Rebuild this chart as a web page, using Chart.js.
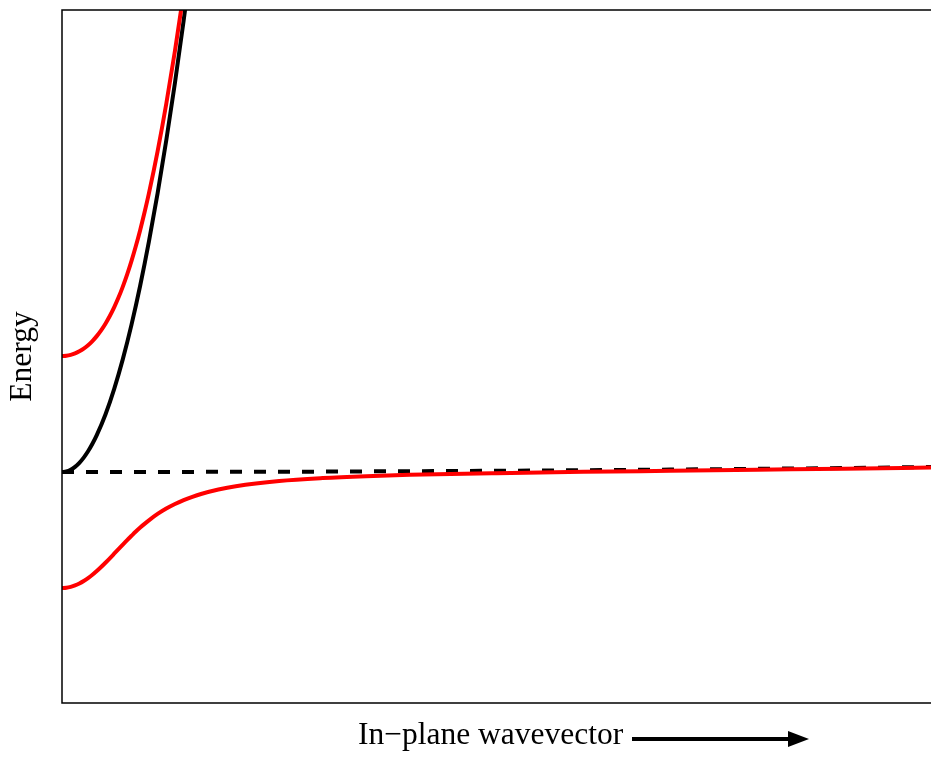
<!DOCTYPE html>
<html>
<head>
<meta charset="utf-8">
<script src="https://cdn.jsdelivr.net/npm/chart.js@4.4.0/dist/chart.umd.min.js"></script>
<style>
  body { margin: 0; background: #fff; }
  #wrap { width: 931px; height: 760px; }
</style>
</head>
<body>
<div id="wrap"><canvas id="polariton-chart" width="931" height="760"></canvas></div>
<script>
// arbitrary units (x: 0..100, energy: 0..100)
const kPhoton = [0, 0.5, 1, 1.5, 2, 2.5, 3, 3.5, 4, 5, 6, 7, 8, 9, 10, 11, 12, 13, 14, 15];
const ePhoton = [33.33, 33.41, 33.66, 34.08, 34.66, 35.41, 36.32, 37.40, 38.65, 41.64, 45.30, 49.62, 54.60, 60.25, 66.57, 73.55, 81.20, 89.51, 98.48, 108.12];

const kUpper = [0, 0.5, 1, 1.5, 2, 2.5, 3, 3.5, 4, 4.5, 5, 5.5, 6, 6.5, 7, 7.5, 8, 8.5, 9, 9.5, 10, 11, 12, 13, 14];
const eUpper = [50.07, 50.11, 50.24, 50.45, 50.75, 51.14, 51.63, 52.23, 52.94, 53.77, 54.73, 55.84, 57.09, 58.50, 60.09, 61.85, 63.80, 65.94, 68.27, 70.81, 73.54, 79.61, 86.47, 94.12, 102.53];

const kLower = [0, 0.5, 1, 1.5, 2, 2.5, 3, 3.5, 4, 4.5, 5, 5.5, 6, 6.5, 7, 7.5, 8, 8.5, 9, 9.5, 10, 11, 12, 13, 14, 15, 16, 18, 20, 25, 30, 35, 40, 50, 60, 70, 80, 90, 100];
const eLower = [16.59, 16.63, 16.76, 16.96, 17.24, 17.60, 18.02, 18.50, 19.04, 19.62, 20.24, 20.88, 21.54, 22.20, 22.86, 23.51, 24.13, 24.74, 25.31, 25.85, 26.36, 27.28, 28.06, 28.72, 29.28, 29.75, 30.16, 30.81, 31.29, 32.04, 32.46, 32.73, 32.92, 33.17, 33.36, 33.51, 33.66, 33.81, 33.97];

const kExciton = [0, 10, 20, 30, 40, 50, 60, 70, 80, 90, 100];
const eExciton = [33.33, 33.34, 33.36, 33.39, 33.45, 33.51, 33.59, 33.68, 33.79, 33.91, 34.05];

const xLabel = 'In\u2212plane wavevector';
const yLabel = 'Energy';

const serif = '"Liberation Serif", "Times New Roman", serif';

const toPoints = (xs, ys) => xs.map((x, i) => ({ x, y: ys[i] }));

// frame on top, left and bottom (right side runs off the picture)
const framePlugin = {
  id: 'frame',
  afterDatasetsDraw(chart) {
    const { ctx, chartArea: a } = chart;
    ctx.save();
    ctx.strokeStyle = '#000';
    ctx.lineWidth = 1.5;
    ctx.beginPath();
    ctx.moveTo(a.right, a.top);
    ctx.lineTo(a.left, a.top);
    ctx.lineTo(a.left, a.bottom);
    ctx.lineTo(a.right, a.bottom);
    ctx.stroke();
    ctx.restore();
  }
};

// x title with the arrow after it
const xTitlePlugin = {
  id: 'xTitle',
  afterDraw(chart) {
    const { ctx, chartArea: a } = chart;
    const y = a.bottom + 41;
    ctx.save();
    ctx.fillStyle = '#000';
    ctx.font = '31.5px ' + serif;
    ctx.textAlign = 'left';
    ctx.textBaseline = 'alphabetic';
    ctx.fillText(xLabel, a.left + 296, y);
    const x0 = a.left + 570;
    const x1 = a.left + 726;
    const tip = a.left + 747;
    const ay = y - 5;
    ctx.strokeStyle = '#000';
    ctx.lineWidth = 4;
    ctx.beginPath();
    ctx.moveTo(x0, ay);
    ctx.lineTo(x1 + 2, ay);
    ctx.stroke();
    ctx.beginPath();
    ctx.moveTo(x1, ay - 8);
    ctx.lineTo(tip, ay);
    ctx.lineTo(x1, ay + 8);
    ctx.closePath();
    ctx.fill();
    ctx.restore();
  }
};

new Chart(document.getElementById('polariton-chart'), {
  type: 'line',
  data: {
    datasets: [
      {
        label: 'Lower polariton',
        data: toPoints(kLower, eLower),
        borderColor: '#ff0000',
        borderWidth: 4,
        order: 0
      },
      {
        label: 'Upper polariton',
        data: toPoints(kUpper, eUpper),
        borderColor: '#ff0000',
        borderWidth: 4,
        order: 1
      },
      {
        label: 'Photon',
        data: toPoints(kPhoton, ePhoton),
        borderColor: '#000000',
        borderWidth: 4,
        order: 2
      },
      {
        label: 'Exciton',
        data: toPoints(kExciton, eExciton),
        borderColor: '#000000',
        borderWidth: 4,
        borderDash: [12, 12],
        order: 3
      }
    ]
  },
  options: {
    responsive: false,
    animation: false,
    events: [],
    layout: {
      padding: { left: 0, top: 10, right: 0, bottom: 57 }
    },
    elements: {
      point: { radius: 0 },
      line: { cubicInterpolationMode: 'monotone', fill: false }
    },
    datasets: {
      line: { clip: 0 }
    },
    plugins: {
      legend: { display: false },
      tooltip: { enabled: false }
    },
    scales: {
      x: {
        type: 'linear',
        min: 0,
        max: 100,
        display: false
      },
      y: {
        type: 'linear',
        min: 0,
        max: 100,
        ticks: { display: false },
        grid: { display: false, drawTicks: false },
        border: { display: false },
        title: {
          display: true,
          text: yLabel,
          color: '#000',
          font: { family: serif, size: 31.5, lineHeight: 1 },
          padding: { top: 7, bottom: 23.5 }
        }
      }
    }
  },
  plugins: [framePlugin, xTitlePlugin]
});
</script>
</body>
</html>
